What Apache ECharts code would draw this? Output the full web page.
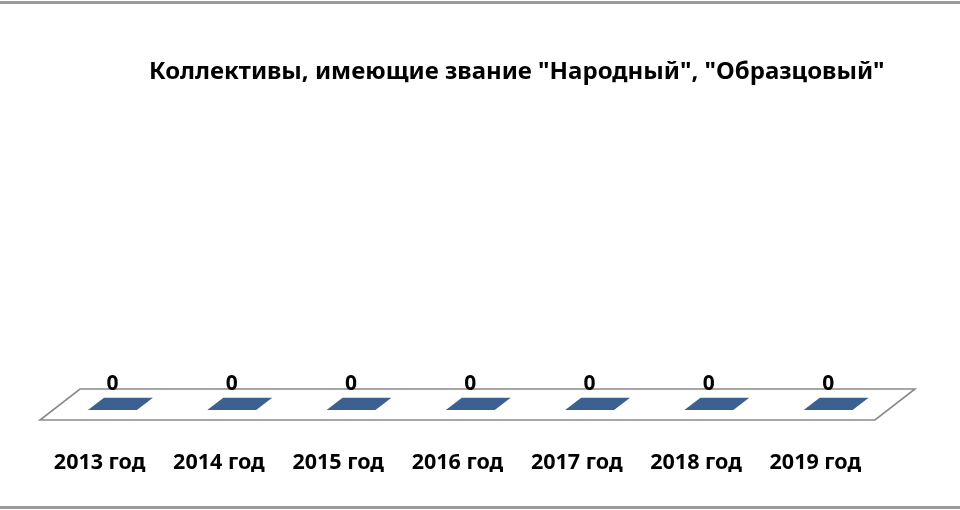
<!DOCTYPE html>
<html>
<head>
<meta charset="utf-8">
<script src="https://cdn.jsdelivr.net/npm/echarts@6/dist/echarts.min.js"></script>
<style>
html,body{margin:0;padding:0;background:#fff;}
#chart{width:960px;height:510px;}
</style>
</head>
<body>
<div id="chart"></div>
<script>
// ---- data ----
const categories = ['2013 год', '2014 год', '2015 год', '2016 год', '2017 год', '2018 год', '2019 год'];
const values = [0, 0, 0, 0, 0, 0, 0];
const titleText = 'Коллективы, имеющие звание "Народный", "Образцовый"';

// ---- 3D look parameters ----
const DX = 40, DY = -31;      // floor depth offset
const D0 = 0.32, D1 = 0.72;   // bar depth range (fraction of floor depth)
const BAR_FRAC = 0.41;        // bar width as a fraction of category band

const chart = echarts.init(document.getElementById('chart'), null, {renderer: 'canvas'});

function floorItem(params, api) {
  const cs = params.coordSys;
  const x1 = cs.x, x2 = cs.x + cs.width, y = cs.y + cs.height;
  return {
    type: 'polygon',
    shape: {points: [[x1, y], [x2, y], [x2 + DX, y + DY], [x1 + DX, y + DY]]},
    style: {fill: '#ffffff', stroke: '#8a8a8a', lineWidth: 1.6}
  };
}

function barItem(params, api) {
  const i = api.value(0), v = api.value(1);
  const base = api.coord([i, 0]);
  const top = api.coord([i, v]);
  const band = api.size([1, 0])[0];
  const w = band * BAR_FRAC;
  const xl = base[0] - w / 2, xr = base[0] + w / 2;
  const fx0 = D0 * DX, fy0 = D0 * DY, fx1 = D1 * DX, fy1 = D1 * DY;
  const color = '#3c6191';
  const children = [];
  const h = base[1] - top[1];
  if (h > 0.5) {
    children.push({
      type: 'polygon',
      shape: {points: [[xr + fx0, base[1] + fy0], [xr + fx1, base[1] + fy1], [xr + fx1, top[1] + fy1], [xr + fx0, top[1] + fy0]]},
      style: {fill: '#2d4a70'}
    });
    children.push({
      type: 'rect',
      shape: {x: xl + fx0, y: top[1] + fy0, width: w, height: h},
      style: {fill: color}
    });
  }
  children.push({
    type: 'polygon',
    shape: {points: [[xl + fx0, top[1] + fy0], [xr + fx0, top[1] + fy0], [xr + fx1, top[1] + fy1], [xl + fx1, top[1] + fy1]]},
    style: {fill: color}
  });
  children.push({
    type: 'text',
    style: {
      text: String(v), x: base[0] + fx0, y: top[1] + fy0 - 26,
      align: 'center', verticalAlign: 'middle',
      font: 'bold 21px "Noto Sans", sans-serif', fill: '#000'
    }
  });
  return {type: 'group', children: children};
}

const option = {
  animation: false,
  backgroundColor: '#ffffff',
  title: {
    text: titleText,
    left: 144, top: 55,
    textStyle: {fontFamily: '"Noto Sans", sans-serif', fontWeight: 'bold', fontSize: 24, color: '#000'}
  },
  graphic: [
    {type: 'line', shape: {x1: 0, y1: 2.5, x2: 960, y2: 2.5}, style: {stroke: '#9a9a9a', lineWidth: 3}},
    {type: 'line', shape: {x1: 0, y1: 507.5, x2: 960, y2: 507.5}, style: {stroke: '#9a9a9a', lineWidth: 3}}
  ],
  grid: {left: 40, right: 85, top: 100, bottom: 90, containLabel: false},
  xAxis: {
    type: 'category', data: categories,
    axisLine: {show: false}, axisTick: {show: false}, splitLine: {show: false},
    axisLabel: {margin: 32, color: '#000', fontFamily: '"Noto Sans", sans-serif', fontWeight: 'bold', fontSize: 21.5}
  },
  yAxis: {type: 'value', min: 0, max: 10, show: false},
  series: [
    {type: 'custom', renderItem: floorItem, data: [[0]], silent: true, z: 1},
    {type: 'custom', renderItem: barItem, data: values.map((v, i) => [i, v]), encode: {x: 0, y: 1}, z: 2}
  ]
};
chart.setOption(option);
</script>
</body>
</html>
